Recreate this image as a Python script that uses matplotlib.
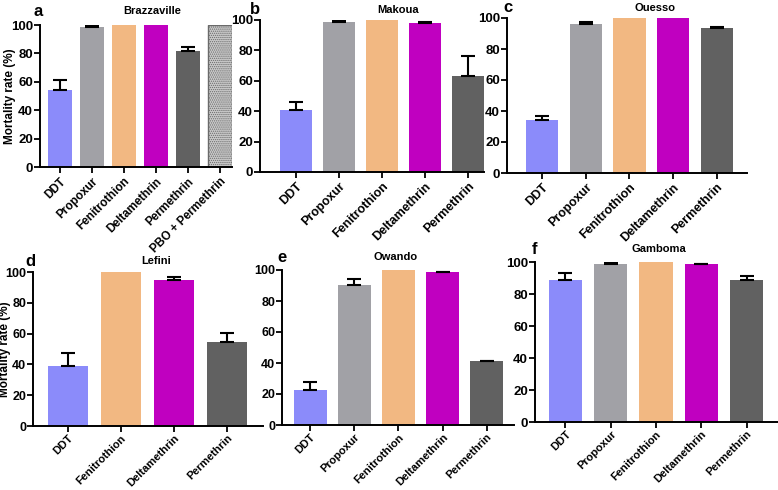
import numpy as np
import matplotlib
matplotlib.use("Agg")
from matplotlib import pyplot as plt

plt.rcParams["font.family"] = ["Liberation Sans", "DejaVu Sans"]
plt.rcParams["font.weight"] = "bold"
plt.rcParams["hatch.color"] = "#707070"
plt.rcParams["hatch.linewidth"] = 0.6

W, H = 778, 490

# data
sites = ["Brazzaville", "Makoua", "Ouesso", "Lefini", "Owando", "Gamboma"]
letters = ["a", "b", "c", "d", "e", "f"]

brazza_labels = ["DDT", "Propoxur", "Fenitrothion", "Deltamethrin", "Permethrin", "PBO + Permethrin"]
brazza_vals = [54.5, 98.5, 100, 100, 82, 100]
brazza_err = [7, 0.8, 0, 0, 2.5, 0]

makoua_labels = ["DDT", "Propoxur", "Fenitrothion", "Deltamethrin", "Permethrin"]
makoua_vals = [40.5, 98.5, 100, 98, 63]
makoua_err = [5.5, 0.8, 0, 0.8, 13]

ouesso_labels = ["DDT", "Propoxur", "Fenitrothion", "Deltamethrin", "Permethrin"]
ouesso_vals = [34, 96, 100, 100, 93.5]
ouesso_err = [3, 1.5, 0, 0, 1]

lefini_labels = ["DDT", "Fenitrothion", "Deltamethrin", "Permethrin"]
lefini_vals = [39, 100, 95, 54.5]
lefini_err = [8.5, 0, 1.5, 6]

owando_labels = ["DDT", "Propoxur", "Fenitrothion", "Deltamethrin", "Permethrin"]
owando_vals = [22.5, 90.5, 100, 98.5, 41]
owando_err = [5, 3.5, 0, 0.5, 0.5]

gamboma_labels = ["DDT", "Propoxur", "Fenitrothion", "Deltamethrin", "Permethrin"]
gamboma_vals = [89, 99, 100, 98.5, 89]
gamboma_err = [4, 0.5, 0, 0.5, 2.5]

colors = {
    "DDT": "#8b8bfa",
    "Propoxur": "#a1a1a6",
    "Fenitrothion": "#f2b882",
    "Deltamethrin": "#c000c0",
    "Permethrin": "#616161",
    "PBO + Permethrin": "#c9c9c9",
}

# layout in pixels: left, right, top(100), bottom(0), xlim left, xlim right
panels = [
    (brazza_labels, brazza_vals, brazza_err, (40, 232, 25, 167), (-0.62, 5.37)),
    (makoua_labels, makoua_vals, makoua_err, (260, 484, 20, 172), (-0.84, 4.37)),
    (ouesso_labels, ouesso_vals, ouesso_err, (507, 747, 18, 173), (-0.80, 4.69)),
    (lefini_labels, lefini_vals, lefini_err, (33, 263, 272, 426), (-0.66, 3.68)),
    (owando_labels, owando_vals, owando_err, (282, 514, 270, 425), (-0.64, 4.62)),
    (gamboma_labels, gamboma_vals, gamboma_err, (535, 778, 262, 422), (-0.67, 4.69)),
]
xlabel_size = [8.5, 9, 9, 8, 8, 8]
ylabel_size = [9.5, 9.5, 9.5, 9, 9, 9.5]
ylabel_edge = {0: 16, 3: 11}

# title and letter positions (pixels)
title_pos = [(152, 11), (398, 10), (655, 8), (156, 261), (396, 257), (659, 249)]
letter_pos = [(33, 11), (250, 10), (503, 8), (25, 261), (277, 257), (532, 249)]

fig = plt.figure(figsize=(W / 100, H / 100), dpi=100)

for i, (labels, vals, errs, box, xl) in enumerate(panels):
    l, r, t, b = box
    ax = fig.add_axes([l / W, 1 - b / H, (r - l) / W, (b - t) / H])
    x = np.arange(len(labels))
    for xi, lab, v, e in zip(x, labels, vals, errs):
        if lab.startswith("PBO"):
            ax.bar(xi, v, width=0.74, color=colors[lab], edgecolor="#6a6a6a",
                   linewidth=1.0, hatch="........", zorder=2)
        else:
            ax.bar(xi, v, width=0.74, color=colors[lab], zorder=2)
        if e > 0:
            ax.errorbar(xi, v, yerr=[[0], [e]], color="black", capsize=5,
                        elinewidth=1.5, capthick=1.5, zorder=3)
    ax.set_xlim(*xl)
    ax.set_ylim(0, 100)
    ax.set_yticks([0, 20, 40, 60, 80, 100])
    ax.set_yticklabels(["0", "20", "40", "60", "80", "100"],
                       fontsize=ylabel_size[i], fontweight="bold")
    ax.set_xticks(x)
    ax.set_xticklabels(labels, rotation=45, ha="right", rotation_mode="anchor",
                       fontsize=xlabel_size[i], fontweight="bold")
    ax.tick_params(axis="y", width=1.3, length=4, pad=1)
    ax.tick_params(axis="x", width=1.3, length=4, pad=2 if i < 3 else 1)
    for s in ["top", "right"]:
        ax.spines[s].set_visible(False)
    for s in ["left", "bottom"]:
        ax.spines[s].set_linewidth(1.4)
    if i in ylabel_edge:
        ax.set_ylabel("Mortality rate (%)", fontsize=8.5, fontweight="bold")
        ax.yaxis.set_label_coords((ylabel_edge[i] - l) / (r - l), 0.5)

    tx, ty = title_pos[i]
    fig.text(tx / W, 1 - ty / H, sites[i], ha="center", va="center",
             fontsize=8, fontweight="bold")
    lx, ly = letter_pos[i]
    fig.text(lx / W, 1 - ly / H, letters[i], ha="left", va="center",
             fontsize=12, fontweight="bold")

fig.savefig("out.png", dpi=100)
